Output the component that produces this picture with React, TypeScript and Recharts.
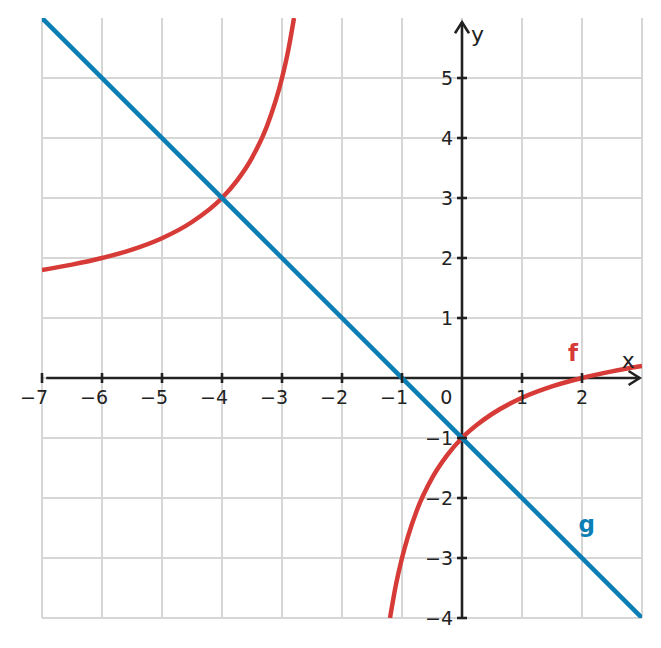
import React from "react";
import {
  ComposedChart,
  Line,
  XAxis,
  YAxis,
  CartesianGrid,
  ReferenceLine,
  ReferenceDot,
} from "recharts";

const gridX = [-7, -6, -5, -4, -3, -2, -1, 0, 1, 2, 3];
const gridY = [-4, -3, -2, -1, 0, 1, 2, 3, 4, 5];
const xTickLabels = [-7, -6, -5, -4, -3, -2, -1, 1, 2];
const yTickLabels = [-4, -3, -2, -1, 1, 2, 3, 4, 5];

// f, left branch
const fLeftX = [-7, -6.5, -6, -5.5, -5, -4.5, -4, -3.75, -3.5, -3.25, -3, -2.9, -2.8];
const fLeftY = [1.8, 1.89, 2.0, 2.14, 2.33, 2.6, 3.0, 3.29, 3.67, 4.2, 5.0, 5.44, 6.0];
// f, right branch
const fRightX = [-1.2, -1.1, -1, -0.9, -0.75, -0.5, -0.25, 0, 0.25, 0.5, 1, 1.5, 2, 2.5, 3];
const fRightY = [-4.0, -3.44, -3.0, -2.64, -2.2, -1.67, -1.29, -1.0, -0.78, -0.6, -0.33, -0.14, 0.0, 0.11, 0.2];
// g
const gX = [-7, 3];
const gY = [6, -4];

const fLeft = fLeftX.map((x, i) => ({ x, y: fLeftY[i] }));
const fRight = fRightX.map((x, i) => ({ x, y: fRightY[i] }));
const gData = gX.map((x, i) => ({ x, y: gY[i] }));

const RED = "#d63b37";
const BLUE = "#0b7fb4";
const AXIS = "#222222";
const FONT = "DejaVu Sans, sans-serif";
const FS = 19;

const minus = (v: number) => (v < 0 ? "\u2212" + Math.abs(v) : String(v));

const XAxisArrow = (p: any) => {
  const { x1, y1, x2, y2 } = p;
  return (
    <g>
      <line x1={x1} y1={y1} x2={x2} y2={y2} stroke={AXIS} strokeWidth={2.6} />
      <polyline
        points={`${x2 - 11},${y2 - 7} ${x2},${y2} ${x2 - 11},${y2 + 7}`}
        fill="none"
        stroke={AXIS}
        strokeWidth={2.6}
      />
    </g>
  );
};

const YAxisArrow = (p: any) => {
  const { x1, y1, x2, y2 } = p;
  const top = Math.min(y1, y2);
  return (
    <g>
      <line x1={x1} y1={y1} x2={x2} y2={y2} stroke={AXIS} strokeWidth={2.6} />
      <polyline
        points={`${x1 - 7},${top + 11} ${x1},${top} ${x1 + 7},${top + 11}`}
        fill="none"
        stroke={AXIS}
        strokeWidth={2.6}
      />
    </g>
  );
};

const XTick = (v: number) => (p: any) => {
  const { cx, cy } = p;
  return (
    <g>
      <line x1={cx} y1={cy - 5} x2={cx} y2={cy + 5} stroke={AXIS} strokeWidth={2.6} />
      <text
        x={cx + 6}
        y={cy + 26}
        textAnchor="end"
        fontFamily={FONT}
        fontSize={FS}
        fill={AXIS}
      >
        {minus(v)}
      </text>
    </g>
  );
};

const YTick = (v: number) => (p: any) => {
  const { cx, cy } = p;
  return (
    <g>
      <line x1={cx - 5} y1={cy} x2={cx + 5} y2={cy} stroke={AXIS} strokeWidth={2.6} />
      <text
        x={cx - 9}
        y={cy + 7}
        textAnchor="end"
        fontFamily={FONT}
        fontSize={FS}
        fill={AXIS}
      >
        {minus(v)}
      </text>
    </g>
  );
};

const TextAt =
  (txt: string, color: string, size: number, bold: boolean) => (p: any) => {
    const { cx, cy } = p;
    return (
      <text
        x={cx}
        y={cy}
        textAnchor="middle"
        dominantBaseline="central"
        fontFamily={FONT}
        fontSize={size}
        fontWeight={bold ? "bold" : "normal"}
        fill={color}
      >
        {txt}
      </text>
    );
  };

export default function App() {
  return (
    <ComposedChart
      width={645}
      height={632}
      margin={{ top: 10, right: 11, bottom: 22, left: 34 }}
      style={{ background: "#fff" }}
    >
      <XAxis
        type="number"
        dataKey="x"
        domain={[-7, 3]}
        allowDataOverflow
        hide
      />
      <YAxis type="number" dataKey="y" domain={[-4, 6]} allowDataOverflow hide />
      <CartesianGrid
        stroke="#d6d6d6"
        strokeWidth={2}
        verticalValues={gridX}
        horizontalValues={gridY}
      />
      <ReferenceLine
        segment={[
          { x: -6.93, y: 0 },
          { x: 2.96, y: 0 },
        ]}
        shape={XAxisArrow}
        ifOverflow="visible"
      />
      <ReferenceLine
        segment={[
          { x: 0, y: -4 },
          { x: 0, y: 5.93 },
        ]}
        shape={YAxisArrow}
        ifOverflow="visible"
      />
      {xTickLabels.map((v) => (
        <ReferenceDot key={"xt" + v} x={v} y={0} r={0} shape={XTick(v)} ifOverflow="visible" />
      ))}
      {yTickLabels.map((v) => (
        <ReferenceDot key={"yt" + v} x={0} y={v} r={0} shape={YTick(v)} ifOverflow="visible" />
      ))}
      <ReferenceDot x={-0.26} y={-0.32} r={0} shape={TextAt("0", AXIS, FS, false)} ifOverflow="visible" />
      <ReferenceDot x={2.77} y={0.3} r={0} shape={TextAt("x", AXIS, 22, false)} ifOverflow="visible" />
      <ReferenceDot x={0.26} y={5.72} r={0} shape={TextAt("y", AXIS, 22, false)} ifOverflow="visible" />
      <Line
        data={fLeft}
        dataKey="y"
        type="monotone"
        stroke={RED}
        strokeWidth={4.5}
        dot={false}
        isAnimationActive={false}
      />
      <Line
        data={fRight}
        dataKey="y"
        type="monotone"
        stroke={RED}
        strokeWidth={4.5}
        dot={false}
        isAnimationActive={false}
      />
      <Line
        data={gData}
        dataKey="y"
        type="linear"
        stroke={BLUE}
        strokeWidth={4.5}
        dot={false}
        isAnimationActive={false}
      />
      <ReferenceDot x={1.85} y={0.42} r={0} shape={TextAt("f", RED, 23, true)} ifOverflow="visible" />
      <ReferenceDot x={2.08} y={-2.44} r={0} shape={TextAt("g", BLUE, 23, true)} ifOverflow="visible" />
    </ComposedChart>
  );
}
